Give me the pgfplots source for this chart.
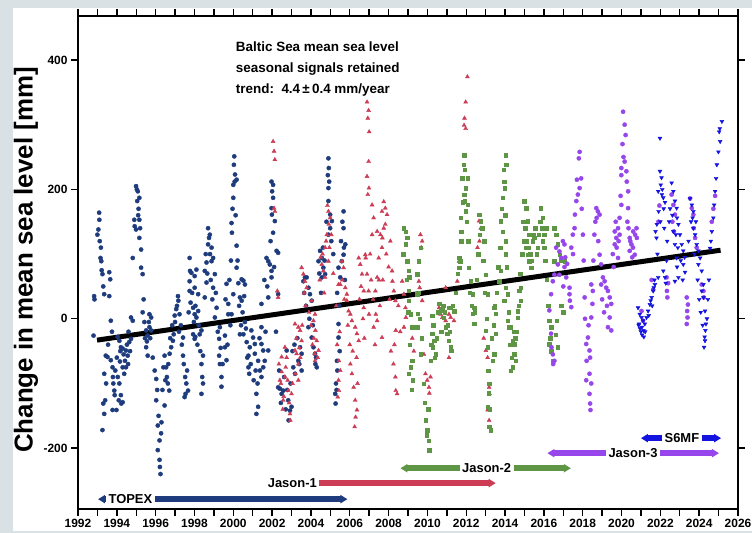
\documentclass[border=0pt]{standalone}
\usepackage{fontspec}
\setmainfont{Liberation Sans}
\usepackage{pgfplots}
\pgfplotsset{compat=1.18}
\usetikzlibrary{arrows.meta}
\definecolor{bggray}{RGB}{217,225,229}
\definecolor{ctopex}{RGB}{30,60,125}
\definecolor{cjone}{RGB}{205,60,85}
\definecolor{cjtwo}{RGB}{95,150,70}
\definecolor{cjthree}{RGB}{150,70,235}
\definecolor{csix}{RGB}{20,20,225}
\begin{document}
\begin{tikzpicture}
\useasboundingbox (-78bp,-24bp) rectangle (674bp,509bp);
\fill[bggray] (-78bp,-24bp) rectangle (674bp,509bp);
\fill[white] (-65bp,-22bp) rectangle (674bp,501bp);
\begin{axis}[at={(0,0)}, anchor=south west, scale only axis,
  width=660bp, height=493bp,
  xmin=1992, xmax=2026, ymin=-294, ymax=468,
  axis line style={line width=2.6bp},
  tick align=outside, xtick pos=both, ytick pos=both,
  xticklabel pos=lower, yticklabel pos=left,
  xtick={1992,1993,...,2026},
  xticklabels={1992,,1994,,1996,,1998,,2000,,2002,,2004,,2006,,2008,,2010,,2012,,2014,,2016,,2018,,2020,,2022,,2024,,2026},
  minor x tick num=3,
  ytick={-200,0,200,400}, yticklabels={-200,0,200,400},
  major tick length=7bp, minor tick length=4bp,
  tick style={black, line width=1.4bp},
  tick label style={font=\bfseries\fontsize{12}{12}\selectfont},
]
% TOPEX
\addplot[only marks, mark=*, mark size=2.1bp, color=ctopex] coordinates {
(1992.80,-26)(1992.83,35)(1992.85,30)(1993.00,130)(1993.05,138)(1993.09,164)(1993.10,153)(1993.16,94)(1993.18,110)(1993.20,89)(1993.26,69)(1993.30,50)(1993.35,38)(1993.43,-57)(1993.52,-59)(1993.35,-85)(1993.30,-131)(1993.35,-147)(1993.26,-172)(1993.40,-126)(1993.61,72)(1993.66,61)(1993.61,35)(1993.69,-3)(1993.69,-64)(1993.78,-75)(1993.80,-90)(1993.87,-111)(1993.89,-118)(1993.78,-141)(1993.82,-100)
(1994.04,-28)(1994.13,-34)(1994.21,-44)(1994.30,-46)(1994.47,-49)(1994.64,-36)(1994.73,-31)(1994.56,-57)(1994.58,-70)(1994.47,-75)(1994.30,-75)(1994.38,-85)(1994.13,-100)(1994.21,-118)(1994.10,-126)(1994.23,-131)(1994.30,-129)(1993.98,-141)(1994.73,2)(1994.82,-3)(1994.00,-60)(1994.16,-66)
(1994.99,205)(1995.08,197)(1995.16,187)(1994.90,153)(1995.16,153)(1994.92,143)(1994.99,138)(1995.16,125)(1995.25,107)(1994.82,94)(1995.25,79)(1995.33,69)(1995.03,200)(1995.05,182)(1995.10,160)
(1995.33,10)(1995.68,7)(1995.77,2)(1995.51,-18)(1995.59,-26)(1995.68,-13)(1995.77,-18)(1995.51,-44)(1995.59,-57)(1995.42,-5)(1995.45,-30)
(1996.03,-93)(1996.46,-57)(1996.54,-75)(1996.58,-90)(1996.63,-100)(1996.70,-111)(1996.03,-126)(1996.46,-134)(1996.11,-165)(1996.28,-177)(1996.20,-188)(1996.11,-203)(1996.20,-218)(1996.22,-229)(1996.25,-240)(1996.15,-150)(1996.35,-110)(1996.40,-75)
(1997.15,35)(1997.17,28)(1997.06,15)(1996.98,5)(1996.93,-24)(1996.89,-34)(1996.80,-44)(1996.72,-54)(1997.23,7)(1997.41,-29)(1997.41,-57)(1997.45,-70)(1997.58,-100)(1997.67,-111)(1997.54,-116)(1997.49,-121)(1997.00,-5)(1997.30,-10)
(1997.75,94)(1997.77,74)(1997.84,71)(1998.10,76)(1998.01,66)(1997.75,58)(1997.75,43)(1998.01,48)(1998.19,38)(1997.93,17)(1998.01,7)(1998.19,12)(1998.10,2)(1997.93,-24)(1998.01,-31)(1998.27,-24)(1998.36,-18)(1998.04,-28)(1998.44,-57)(1998.36,-70)(1998.44,-100)(1998.36,-116)(1997.80,25)(1998.15,-40)
(1998.70,140)(1998.79,130)(1998.70,115)(1998.88,110)(1998.96,94)(1998.62,87)(1999.05,69)(1998.88,89)(1998.53,74)(1998.62,56)(1998.96,48)(1998.53,33)(1999.14,17)(1999.05,2)(1999.31,-13)(1999.27,-31)(1999.27,-57)(1999.31,-70)(1999.39,-90)(1999.39,-105)(1998.75,125)(1998.80,100)
(1999.65,54)(1999.57,-26)(1999.57,-44)(1999.65,-64)(1999.91,148)(1999.93,133)(2000.00,187)(2000.05,251)(2000.03,238)(2000.09,223)(2000.07,212)(2000.00,207)(2000.17,215)(1999.74,23)(1999.74,7)(2000.17,113)(2000.17,79)(2000.26,55)(2000.00,38)(1999.91,7)(1999.85,-10)
(2000.43,61)(2000.52,59)(2000.60,53)(2000.34,33)(2000.43,28)(2000.34,-24)(2000.52,-24)(2000.69,-36)(2000.78,-57)(2000.78,-75)(2000.82,-85)(2000.60,-5)
(2000.93,-18)(2001.02,-29)(2001.11,-39)(2000.85,-44)(2001.11,-54)(2001.28,-65)(2001.37,-80)(2001.45,-90)(2001.19,-116)(2001.28,-136)(2001.19,-147)(2001.45,23)(2001.45,-13)(2001.71,94)(2001.80,89)(2001.88,84)(2001.80,33)(2001.97,74)(2001.45,-39)(2001.54,-49)(2001.62,-65)(2001.54,-75)(2001.80,-49)
(2001.97,212)(2002.05,207)(2002.00,197)(2002.05,187)(2001.97,171)(2001.99,161)(2002.05,133)(2002.14,151)(2002.23,105)(2002.31,102)(2001.97,64)(2002.31,38)(2002.40,-108)(2002.31,-106)(2002.49,-116)(2002.57,-111)(2002.83,-126)(2002.92,-142)(2002.85,-157)(2003.00,-136)(2002.75,-49)(2003.18,-85)(2003.09,-75)(2003.44,-44)(2003.52,-54)(2003.35,-65)(2003.52,-80)
(2003.69,64)(2003.78,64)(2003.61,58)(2003.87,48)(2003.95,38)(2004.04,28)(2003.87,-13)(2004.04,-29)(2004.13,-44)(2004.21,-54)(2004.23,-70)(2004.30,-75)(2004.47,105)(2004.56,94)(2004.64,79)(2004.73,69)(2004.39,89)(2004.56,64)
(2004.90,248)(2004.92,233)(2004.87,222)(2004.94,212)(2004.90,202)(2004.90,182)(2004.99,161)(2005.08,151)(2004.99,140)(2004.90,130)(2005.42,79)(2005.68,166)(2005.68,140)(2005.77,115)(2005.70,110)(2005.68,99)(2005.59,89)(2005.51,64)(2005.42,-8)(2005.42,-29)(2005.34,-65)(2005.36,-80)(2005.29,-100)(2005.25,-116)(2005.27,-131)
(1993.12,120)(1993.22,75)(1993.45,-100)(1993.55,-40)(1993.75,-20)(1993.92,-80)(1994.05,-90)(1994.18,-50)(1994.35,-55)(1994.42,-65)(1994.52,-40)(1994.60,-20)(1994.68,-50)(1995.12,170)(1995.20,140)(1995.38,30)(1995.55,-35)(1995.65,-5)(1995.72,-30)(1995.85,-60)(1995.95,-80)(1996.08,-110)(1996.30,-160)(1996.50,-95)(1996.65,-70)(1996.75,-30)(1996.85,-10)(1997.10,20)(1997.20,-20)(1997.35,-40)(1997.52,-90)(1997.62,-80)(1997.70,10)(1997.88,40)(1997.97,-5)(1998.05,20)(1998.22,-10)(1998.30,-50)(1998.40,-90)(1998.58,100)(1998.66,70)(1998.84,60)(1998.92,30)(1999.10,40)(1999.20,-20)(1999.35,-45)(1999.45,-70)(1999.60,30)(1999.70,-40)(1999.80,60)(1999.88,90)(1999.96,170)(2000.12,160)(2000.22,90)(2000.30,20)(2000.40,-10)(2000.48,10)(2000.56,35)(2000.65,-15)(2000.72,-60)(2000.90,-70)(2001.05,-95)(2001.15,-80)(2001.25,-100)(2001.35,-30)(2001.60,60)(2001.66,-20)(2001.75,50)(2001.92,120)(2002.10,80)(2002.20,-20)(2002.36,-80)(2002.45,-130)(2002.62,-90)(2002.70,-140)(2002.78,-110)(2002.95,-100)(2003.05,-50)(2003.15,-40)(2003.30,-30)(2003.40,-70)(2003.65,40)(2003.75,20)(2003.92,0)(2004.10,-10)(2004.26,-60)(2004.43,70)(2004.52,40)(2004.62,110)(2004.70,90)(2004.80,150)(2005.05,120)(2005.15,100)(2005.35,40)(2005.45,20)(2005.55,120)(2005.62,150)(2005.75,60)(2005.48,-50)(2005.32,-110)
};
% Jason-1
\addplot[only marks, mark=triangle*, mark size=2.3bp, color=cjone] coordinates {
(2002.05,274)(2002.10,259)(2002.14,246)(2002.10,171)(2002.14,166)(2002.27,43)(2002.31,33)(2002.40,-95)(2002.49,-82)(2002.57,-126)(2002.66,-90)(2002.66,-44)(2002.75,-60)(2002.49,-59)(2002.83,-111)(2002.92,-147)(2002.94,-157)(2003.00,-116)
(2003.18,-8)(2003.35,-13)(2003.44,-18)(2003.52,-34)(2003.26,-54)(2003.35,-70)(2003.18,-49)(2003.20,-85)(2003.35,-95)(2003.52,79)(2003.61,69)(2003.69,58)(2003.78,48)
(2004.04,28)(2004.21,7)(2004.13,-3)(2004.23,-18)(2004.30,-34)(2004.39,-49)(2004.21,-65)(2004.19,-54)(2004.56,84)(2004.64,74)(2004.73,64)(2004.90,166)(2004.99,156)(2004.92,146)(2004.82,130)(2004.73,110)(2004.90,89)
(2005.42,53)(2005.51,53)(2005.59,89)(2005.68,79)(2005.77,48)(2005.85,28)(2005.94,12)(2005.85,38)(2005.44,-65)(2005.51,-80)(2005.42,-95)(2005.44,-111)(2005.38,-121)
(2006.03,7)(2006.11,-3)(2006.28,-13)(2006.37,-23)(2006.46,-34)(2006.28,-126)(2006.37,-141)(2006.30,-152)(2006.25,-167)(2006.03,-70)(2006.11,-85)(2006.20,-106)(2006.46,94)(2006.54,84)(2006.63,69)(2006.72,43)(2006.72,17)(2006.80,99)
(2006.89,335)(2006.97,322)(2006.93,310)(2007.00,289)(2006.97,243)(2006.89,220)(2006.99,202)(2006.93,192)(2007.15,176)(2007.23,156)(2007.15,130)(2006.82,94)(2006.89,69)(2006.97,43)(2006.99,7)
(2007.41,135)(2007.58,130)(2007.66,166)(2007.75,181)(2007.83,171)(2007.92,161)(2007.83,146)(2007.75,140)(2007.68,125)(2007.66,110)(2007.49,94)(2007.41,64)(2007.32,43)(2007.34,7)(2007.41,-3)(2007.23,-13)(2007.66,-29)
(2008.09,120)(2008.18,74)(2008.20,58)(2008.27,43)(2008.35,28)(2008.37,-18)(2008.35,-90)(2008.37,-111)(2008.44,-116)(2008.70,58)(2008.79,38)(2008.87,17)(2008.89,2)(2008.79,-13)
(2009.22,-30)(2009.30,-50)
(2009.64,130)(2009.73,120)(2009.68,110)(2009.56,58)(2009.60,48)(2009.73,28)(2009.90,-85)(2009.99,-95)(2010.08,-106)(2010.16,-90)(2010.10,-115)(2009.82,-55)
(2010.60,17)(2010.68,7)(2010.77,2)(2010.94,-3)(2011.11,7)(2011.20,2)(2011.37,-3)(2010.94,48)(2011.11,-60)
(2011.54,58)(2011.63,89)(2011.89,299)(2011.97,335)(2012.06,374)(2011.91,310)(2011.97,294)(2012.66,151)(2012.75,140)(2012.58,110)(2012.68,120)(2013.01,-49)(2013.10,-60)(2013.18,-106)(2013.20,-116)(2013.10,-141)(2013.18,-157)(2012.90,-30)
(2002.35,-70)(2002.45,-100)(2002.55,-140)(2002.60,-120)(2002.70,-75)(2002.80,-95)(2002.88,-130)(2003.05,-100)(2003.25,-30)(2003.40,-45)(2003.45,-60)(2003.55,-10)(2003.65,40)(2003.72,20)(2003.90,10)(2004.00,-10)(2004.08,-40)(2004.15,-30)(2004.35,-60)(2004.45,60)(2004.50,95)(2004.60,100)(2004.68,40)(2004.78,120)(2004.85,175)(2004.95,110)(2005.05,130)(2005.15,70)(2005.30,20)(2005.35,-40)(2005.48,-20)(2005.62,60)(2005.72,30)(2005.90,-10)(2006.00,-40)(2006.15,-50)(2006.35,-60)(2006.40,-100)(2006.50,30)(2006.58,50)(2006.68,0)(2006.75,-30)(2007.05,100)(2007.10,60)(2007.20,30)(2007.30,-40)(2007.50,60)(2007.55,20)(2007.70,60)(2007.88,100)(2008.00,80)(2008.05,30)(2008.12,-50)(2008.25,-70)(2008.30,-40)(2008.50,20)(2008.60,-20)
};
% Jason-2
\addplot[only marks, mark=square*, mark size=1.7bp, color=cjtwo] coordinates {
(2008.79,140)(2008.87,135)(2008.96,125)(2008.87,115)(2008.96,89)(2009.05,74)(2009.07,64)(2009.05,43)(2009.05,28)(2009.13,7)(2009.22,-13)(2009.22,-65)(2009.13,-75)(2009.05,-85)(2009.24,-95)
(2009.64,110)(2009.56,89)(2009.47,69)(2009.47,38)(2009.49,8)(2009.47,-13)(2009.64,-55)(2009.90,-157)(2009.99,-172)(2010.08,-188)(2010.10,-203)(2010.05,-140)
(2010.25,-23)(2010.34,-34)(2010.27,-44)(2010.42,-55)(2010.16,-65)(2010.25,5)
(2010.60,23)(2010.68,13)(2010.77,15)(2010.85,2)(2010.94,-13)(2011.02,-23)(2011.11,-34)(2011.20,-44)(2011.22,-49)(2011.11,17)(2011.20,17)(2011.37,12)
(2011.63,94)(2011.71,89)(2011.63,79)(2011.89,253)(2011.87,238)(2011.80,217)(2011.97,202)(2012.06,217)(2011.89,192)(2011.91,182)(2012.06,176)(2011.97,166)(2011.71,156)(2011.73,135)(2011.69,89)
(2012.14,79)(2012.23,58)(2012.32,38)(2012.40,17)(2012.32,8)(2012.40,-8)(2012.66,161)(2012.75,151)(2012.83,140)(2012.92,120)
(2013.01,68)(2013.10,38)(2013.44,17)(2013.53,8)(2013.01,-18)(2013.53,-23)(2013.10,-44)(2013.44,-55)(2013.35,-65)(2013.18,-100)(2013.16,-115)(2013.10,-136)(2013.27,-172)(2013.18,-167)
(2014.04,253)(2014.06,238)(2013.96,212)(2013.98,202)(2013.87,187)(2013.79,151)(2013.87,135)(2014.04,120)(2014.04,100)(2013.79,74)(2013.70,58)(2014.04,48)(2014.13,38)(2013.96,28)
(2014.13,-3)(2014.22,-13)(2014.30,-13)(2014.39,-34)(2014.47,-39)(2014.47,-55)(2014.56,-65)(2014.39,-75)(2014.30,-80)(2014.65,2)(2014.65,12)(2014.73,43)(2014.82,48)(2014.82,28)
(2014.99,182)(2015.08,171)(2015.16,151)(2015.25,130)(2014.99,120)(2015.08,110)(2015.16,99)(2015.25,89)(2015.34,79)(2015.42,120)(2015.51,125)(2015.68,110)
(2015.85,171)(2015.94,156)(2016.02,130)(2015.94,120)(2016.02,110)(2016.11,140)(2016.28,-3)(2016.37,-13)(2016.28,-39)(2016.37,-50)(2016.46,-65)(2016.54,140)(2016.63,130)(2016.72,115)(2016.80,99)(2016.89,90)(2016.54,89)(2017.06,89)
(2016.60,-25)(2016.70,-44)(2016.65,-3)(2016.90,20)(2017.00,10)
(2008.75,100)(2008.92,60)(2009.00,10)(2009.10,-40)(2009.18,-110)(2009.52,40)(2009.60,0)(2009.70,-30)(2009.80,-100)(2009.85,-130)(2009.95,-180)(2010.20,-40)(2010.30,-10)(2010.38,-60)(2010.48,-30)(2010.55,10)(2010.72,-20)(2010.82,20)(2010.90,10)(2011.05,-10)(2011.15,-20)(2011.30,20)(2011.45,40)(2011.55,70)(2011.75,120)(2011.83,180)(2011.93,230)(2012.02,150)(2012.10,120)(2012.18,40)(2012.28,20)(2012.45,10)(2012.55,60)(2012.62,100)(2012.70,130)(2012.88,90)(2012.96,40)(2013.05,0)(2013.14,-80)(2013.22,-140)(2013.30,-30)(2013.40,-10)(2013.48,20)(2013.58,40)(2013.65,80)(2013.75,110)(2013.82,170)(2013.92,230)(2014.00,160)(2014.08,80)(2014.18,10)(2014.26,-40)(2014.35,-60)(2014.43,-20)(2014.52,-30)(2014.60,-20)(2014.70,20)(2014.78,70)(2014.88,100)(2014.94,150)(2015.04,140)(2015.12,120)(2015.20,110)(2015.30,100)(2015.38,90)(2015.46,130)(2015.55,140)(2015.62,100)(2015.72,130)(2015.80,150)(2015.90,140)(2016.06,90)(2016.15,60)(2016.22,20)(2016.33,-30)
};
% Jason-3
\addplot[only marks, mark=*, mark size=2.1bp, color=cjthree] coordinates {
(2016.28,13)(2016.37,-23)(2016.39,-44)(2016.46,-55)(2016.54,-65)(2016.48,-70)(2016.37,38)(2016.46,58)(2016.54,68)(2016.63,110)(2016.80,104)(2016.89,94)(2016.98,120)(2017.06,115)(2016.72,84)(2016.80,68)(2017.06,80)(2017.15,64)(2017.32,48)(2017.34,28)(2017.41,18)(2017.32,38)
(2017.41,110)(2017.49,130)(2017.58,140)(2017.60,161)(2017.67,182)(2017.75,192)(2017.84,202)(2017.92,217)(2017.84,258)(2017.80,248)(2018.01,130)(2018.10,33)(2018.18,-39)(2018.20,-65)(2018.18,-95)
(2018.27,-29)(2018.35,-49)(2018.38,-60)(2018.35,-85)(2018.44,-100)(2018.35,-116)(2018.38,-131)(2018.40,-141)(2018.44,53)(2018.52,43)(2018.50,23)(2018.44,2)
(2018.70,171)(2018.78,166)(2018.87,161)(2018.72,156)(2018.87,99)(2018.95,84)(2019.04,64)(2018.95,53)(2019.13,58)(2019.21,48)(2019.30,43)(2019.39,33)(2019.47,23)(2019.39,2)(2019.47,-18)(2019.30,-13)
(2019.65,135)(2019.73,125)(2019.82,140)(2019.90,130)(2019.65,115)(2019.82,94)(2020.08,320)(2020.16,300)(2020.21,284)(2020.16,243)(2020.25,228)(2020.27,212)(2019.99,233)(2019.99,222)(2020.34,197)(2019.99,176)(2020.34,171)(2019.90,156)(2020.36,140)(2020.42,125)(2020.51,115)(2020.59,110)(2020.42,105)(2020.68,99)(2020.77,140)(2020.79,125)(2020.60,135)
(2021.03,12)(2021.11,-3)(2021.55,60)(2021.63,45)(2021.90,150)(2021.95,175)
(2022.58,192)(2022.67,176)(2022.75,161)(2022.62,150)(2022.70,135)(2022.32,64)(2022.34,43)(2022.36,33)(2022.40,55)
(2023.36,33)(2023.38,12)(2023.40,2)(2023.36,-8)(2023.42,22)
(2023.53,186)(2023.62,171)(2023.70,161)(2023.72,140)(2023.79,125)(2023.87,110)
(2024.13,53)(2024.22,43)(2024.24,33)(2024.65,150)(2024.73,170)(2024.82,190)
(2017.00,50)(2017.10,95)(2017.20,85)(2017.50,100)(2017.70,215)(2017.95,170)(2018.05,90)(2018.12,0)(2018.30,-10)(2018.55,90)(2018.60,130)(2018.65,150)(2018.80,120)(2019.00,30)(2019.10,10)(2019.25,20)(2019.55,100)(2019.60,80)(2019.70,150)(2019.75,110)(2019.85,120)(2019.95,190)(2020.05,270)(2020.10,250)(2020.30,150)(2020.45,120)(2020.55,95)(2020.70,130)
};
% Sentinel-6MF
\addplot[only marks, mark=triangle*, mark size=2.2bp, mark options={rotate=180}, color=csix] coordinates {
(2020.85,17)(2020.94,7)(2021.03,2)(2021.11,-3)(2021.20,-8)(2021.05,-13)(2021.13,-18)(2020.90,-8)(2020.88,-10)(2020.95,-15)(2021.00,-20)(2021.06,-25)(2021.15,-28)(2021.22,-20)(2021.29,2)(2021.37,12)(2021.46,22)(2021.55,33)(2021.63,43)(2021.66,48)(2021.72,53)(2021.89,64)(2021.80,125)(2021.82,146)(2021.75,135)
(2021.98,279)(2021.98,228)(2022.06,218)(2022.02,207)(2021.89,197)(2022.08,192)(2022.15,187)(2022.24,180)(2022.17,170)(2021.91,166)(2022.15,74)(2022.24,64)(2022.28,55)(2022.32,90)
(2022.58,210)(2022.67,197)(2022.75,182)(2022.84,171)(2022.86,156)(2022.93,146)(2023.01,130)(2023.10,115)(2023.18,105)(2022.67,135)(2022.75,115)(2022.84,94)(2022.93,64)(2022.75,58)(2022.86,80)(2023.18,84)(2023.27,72)
(2023.53,186)(2023.62,176)(2023.70,166)(2023.66,156)(2023.70,140)(2023.79,130)(2023.87,115)(2023.96,105)(2024.05,94)(2023.96,84)(2024.13,74)(2024.22,53)(2024.13,43)(2024.22,33)(2024.30,12)(2024.35,-8)(2024.32,-18)(2024.30,-34)(2024.25,-44)(2024.28,-28)
(2024.56,109)(2024.60,120)(2024.65,135)(2024.73,156)(2024.77,176)(2024.82,197)(2024.87,217)(2024.91,238)(2024.99,258)(2025.08,274)(2025.06,294)(2025.17,305)(2025.03,289)
(2021.40,5)(2021.50,28)(2021.58,20)(2021.70,60)(2021.85,100)(2022.00,150)(2022.10,200)(2022.20,140)(2022.35,120)(2022.45,150)(2022.50,170)(2022.62,160)(2022.80,130)(2022.90,110)(2023.05,90)(2023.15,60)(2023.25,95)(2023.45,120)(2023.58,150)(2023.75,100)(2023.83,150)(2023.92,60)(2024.00,30)(2024.08,10)(2024.18,-10)(2024.40,0)(2024.45,30)(2024.50,60)
};
% trend
\addplot[black, line width=5bp] coordinates {(1992.98,-33) (2025.10,106)};
% mission bars
\addplot[ctopex, line width=6bp, arrows={Triangle[length=7bp,width=8bp]-Triangle[length=7bp,width=8bp]}] coordinates {(1993.03,-278.8) (2005.88,-278.8)};
\addplot[cjone, line width=6bp, arrows={Triangle[length=7bp,width=8bp]-Triangle[length=7bp,width=8bp]}] coordinates {(2002.00,-254) (2013.52,-254)};
\addplot[cjtwo, line width=6bp, arrows={Triangle[length=7bp,width=8bp]-Triangle[length=7bp,width=8bp]}] coordinates {(2008.61,-231) (2017.39,-231)};
\addplot[cjthree, line width=6bp, arrows={Triangle[length=7bp,width=8bp]-Triangle[length=7bp,width=8bp]}] coordinates {(2016.18,-207.7) (2025.02,-207.7)};
\addplot[csix, line width=6bp, arrows={Triangle[length=7bp,width=8bp]-Triangle[length=7bp,width=8bp]}] coordinates {(2021.00,-184.5) (2025.13,-184.5)};
\begin{scope}[every node/.style={fill=white, inner xsep=2.5bp, inner ysep=1bp, font=\bfseries\fontsize{13}{14}\selectfont}]
\node at (axis cs:1994.70,-278.8) {TOPEX};
\node at (axis cs:2003.04,-254) {Jason-1};
\node at (axis cs:2013.05,-231) {Jason-2};
\node at (axis cs:2020.59,-207.7) {Jason-3};
\node at (axis cs:2023.11,-184.5) {S6MF};
\end{scope}
\begin{scope}[every node/.style={anchor=base west, inner sep=0pt, font=\bfseries\fontsize{13.5}{15}\selectfont}]
\node at (rel axis cs:0.239,0.928) {Baltic Sea mean sea level};
\node at (rel axis cs:0.239,0.886) {seasonal signals retained};
\node at (rel axis cs:0.239,0.8436) {trend:\ \ 4.4\,±\,0.4 mm/year};
\end{scope}
\end{axis}
\node[rotate=90, inner sep=0pt, font=\bfseries\fontsize{26}{28}\selectfont] at (-52bp,249bp) {Change in mean sea level [mm]};
\end{tikzpicture}
\end{document}
